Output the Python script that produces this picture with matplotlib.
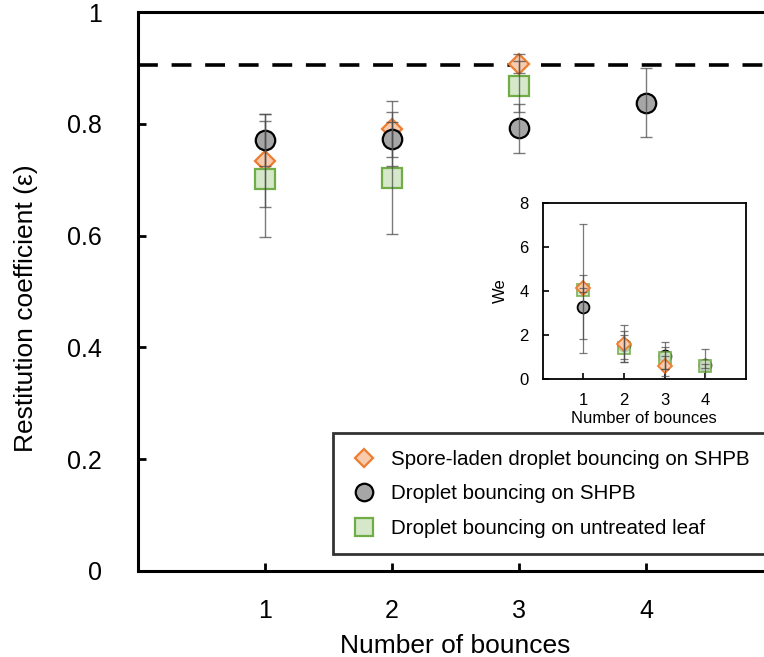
import matplotlib
matplotlib.use("Agg")
import matplotlib.pyplot as plt
import numpy as np

plt.rcParams['font.family'] = ['Liberation Sans', 'DejaVu Sans']

# ---- data: main chart (restitution coefficient) ----
bounces = [1, 2, 3, 4]
spore_bounces = [1, 2, 3]
spore_eps = [0.734, 0.791, 0.907]
spore_eps_err = [0.083, 0.050, 0.017]
shpb_bounces = [1, 2, 3, 4]
shpb_eps = [0.771, 0.773, 0.792, 0.838]
shpb_eps_err = [0.046, 0.048, 0.044, 0.062]
leaf_bounces = [1, 2, 3]
leaf_eps = [0.701, 0.703, 0.867]
leaf_eps_err = [0.104, 0.100, 0.045]
eps_reference = 0.905

# ---- data: inset (Weber number) ----
spore_we = [4.11, 1.60, 0.60]
spore_we_err = [2.93, 0.85, 0.45]
shpb_we = [3.28, 1.54, 1.06, 0.64]
shpb_we_err = [1.45, 0.65, 0.60, 0.74]
leaf_we = [4.04, 1.39, 0.94, 0.60]
leaf_we_err = [0.10, 0.60, 0.50, 0.10]
leaf_we_bounces = [1, 2, 3, 4]

labels = ["Spore-laden droplet bouncing on SHPB",
          "Droplet bouncing on SHPB",
          "Droplet bouncing on untreated leaf"]

orange = "#ED7D31"
orange_f = "#F8CBAD"
green = "#70AD47"
green_f = "#D5E8C9"
grey_f = "#A6A6A6"
err_c = "#4D4D4D"

W, H = 764, 657
fig = plt.figure(figsize=(W / 100, H / 100), dpi=100)
ax = fig.add_axes([138 / W, 1 - 571 / H, 635 / W, 559 / H])

# main series
h1, = ax.plot(spore_bounces, spore_eps, ls="none", marker="D", ms=10,
              mfc=orange_f, mec=orange, mew=1.6, zorder=3)
h2, = ax.plot(shpb_bounces, shpb_eps, ls="none", marker="o", ms=14,
              mfc=grey_f, mec="black", mew=1.6, zorder=3)
h3, = ax.plot(leaf_bounces, leaf_eps, ls="none", marker="s", ms=14,
              mfc=green_f, mec=green, mew=1.6, zorder=3)
for xs, ys, es in [(spore_bounces, spore_eps, spore_eps_err),
                   (shpb_bounces, shpb_eps, shpb_eps_err),
                   (leaf_bounces, leaf_eps, leaf_eps_err)]:
    ax.errorbar(xs, ys, yerr=es, fmt="none", ecolor=err_c, elinewidth=1.0,
                capsize=4, capthick=1.0, alpha=0.75, zorder=4)

ax.axhline(eps_reference, color="black", lw=2.6, ls=(0, (5.5, 3.8)), zorder=2)

ax.set_xlim(0, 5)
ax.set_ylim(0, 1)
ax.set_xticks(bounces)
ax.set_yticks([0, 0.2, 0.4, 0.6, 0.8, 1.0])
ax.set_yticklabels(["0", "0.2", "0.4", "0.6", "0.8", "1"])
ax.tick_params(axis="y", direction="in", length=6, width=2, labelsize=18, pad=26)
ax.tick_params(axis="x", direction="in", length=6, width=2, labelsize=18, pad=20)
for s in ax.spines.values():
    s.set_linewidth(2.2)
ax.set_xlabel("Number of bounces", fontsize=19, labelpad=8)
ax.set_ylabel("Restitution coefficient (\u03b5)", fontsize=19)
ax.yaxis.set_label_coords(-0.158, 0.47)

leg = ax.legend([h1, h2, h3], labels, loc="upper left",
                bbox_to_anchor=(0.307, 0.246), borderaxespad=0,
                fontsize=14.8, frameon=True, fancybox=False, edgecolor="black",
                handlelength=1.4, handletextpad=0.6, labelspacing=0.75,
                borderpad=0.8, markerscale=0.9)
leg.get_frame().set_linewidth(2.0)
leg.set_zorder(5)

# inset
axi = fig.add_axes([542.7 / W, 1 - 379 / H, 203.3 / W, 176.3 / H])
axi.plot(bounces[:3], spore_we, ls="none", marker="D", ms=7,
         mfc=orange_f, mec=orange, mew=1.3, zorder=4)
axi.plot(shpb_bounces, shpb_we, ls="none", marker="o", ms=8.5,
         mfc=grey_f, mec="black", mew=1.3, zorder=2)
axi.plot(leaf_we_bounces, leaf_we, ls="none", marker="s", ms=8.5,
         mfc=green_f, mec=green, mew=1.3, alpha=0.85, zorder=3)
for xs, ys, es in [(bounces[:3], spore_we, spore_we_err),
                   (shpb_bounces, shpb_we, shpb_we_err),
                   (leaf_we_bounces, leaf_we, leaf_we_err)]:
    axi.errorbar(xs, ys, yerr=es, fmt="none", ecolor=err_c, elinewidth=0.9,
                 capsize=3, capthick=0.9, alpha=0.75, zorder=5)
axi.set_xlim(0, 5)
axi.set_ylim(0, 8)
axi.set_xticks(bounces)
axi.set_yticks([0, 2, 4, 6, 8])
axi.tick_params(axis="y", direction="in", length=4, width=1.2, labelsize=12, pad=10)
axi.tick_params(axis="x", direction="in", length=4, width=1.2, labelsize=12, pad=10)
for s in axi.spines.values():
    s.set_linewidth(1.3)
axi.set_xlabel("Number of bounces", fontsize=12, labelpad=2)
axi.set_ylabel("We", fontsize=12, labelpad=8)

fig.savefig("out.png", dpi=100)
